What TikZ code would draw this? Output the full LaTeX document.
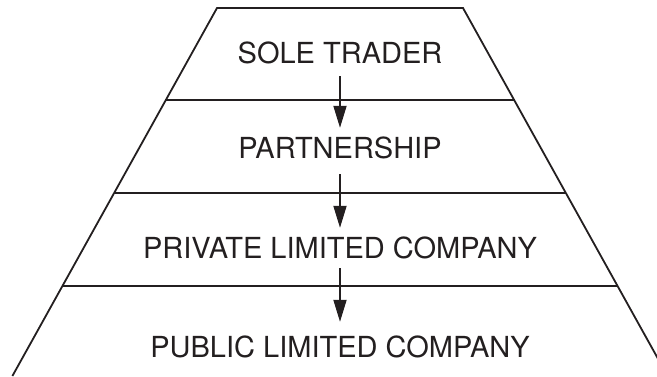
\documentclass[tikz,border=0pt]{standalone}
\usepackage{fontspec}
\setmainfont{TeX Gyre Heros}
\usetikzlibrary{arrows.meta}
\definecolor{ink}{HTML}{231F20}
\begin{document}
\begin{tikzpicture}[x=1pt,y=-1pt,
  edge/.style={draw=ink,line width=1.8pt,line join=miter},
  divider/.style={draw=ink,line width=1.8pt},
  label/.style={anchor=base,inner sep=0pt,text height=21pt,text depth=0pt,text=ink,font=\fontsize{29}{34}\selectfont},
  flow/.style={draw=ink,line width=1.8pt,-{Triangle[length=22pt,width=13pt]}}]
\useasboundingbox (0,0) rectangle (657,376);
\clip (0,0) rectangle (657,376);
% trapezoid outline
\coordinate (bl) at (12.4,376);
\coordinate (tl) at (217,8);
\coordinate (tr) at (463,8);
\coordinate (br) at (667.6,376);
\draw[edge] (bl) -- (tl) -- (tr) -- (br);
% dividers
\coordinate (d1l) at (165.9,100); \coordinate (d1r) at (514.1,100);
\coordinate (d2l) at (114.1,193); \coordinate (d2r) at (565.9,193);
\coordinate (d3l) at (62.4,286);  \coordinate (d3r) at (617.6,286);
\draw[divider] (d1l) -- (d1r);
\draw[divider] (d2l) -- (d2r);
\draw[divider] (d3l) -- (d3r);
% labels
\node[label] (a) at (340,63) {SOLE TRADER};
\node[label] (b) at (340,158) {PARTNERSHIP};
\node[label] (c) at (340,258) {PRIVATE LIMITED COMPANY};
\node[label] (d) at (340,357) {PUBLIC LIMITED COMPANY};
% arrows
\draw[flow,shorten <=13pt,shorten >=9pt] (a.south) -- (b.north);
\draw[flow,shorten <=16pt,shorten >=9pt] (b.south) -- (c.north);
\draw[flow,shorten <=10pt,shorten >=14pt] (c.south) -- (d.north);
\end{tikzpicture}
\end{document}
